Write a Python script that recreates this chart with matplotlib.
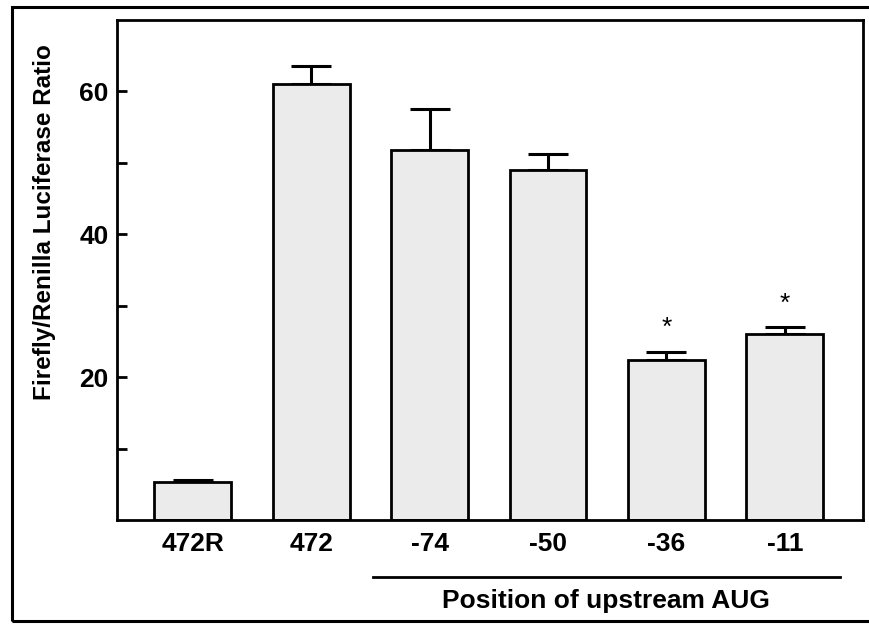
import matplotlib.pyplot as plt
from matplotlib.patches import Rectangle

# --- Data ---
labels = ['472R', '472', '-74', '-50', '-36', '-11']
ratios = [5.4, 61.1, 51.8, 49.0, 22.4, 26.1]
errors = [0.2, 2.4, 5.8, 2.2, 1.2, 0.9]
star_bars = [4, 5]
star_heights = [27.6, 31.0]

plt.rcParams['font.family'] = ['Liberation Sans', 'DejaVu Sans']

fig = plt.figure(figsize=(8.69, 6.24), dpi=100)
ax = fig.add_axes([0.1346, 0.1659, 0.8585, 0.8021])

x = list(range(len(labels)))
ax.bar(x, ratios, width=0.65, color='#ebebeb', edgecolor='black', linewidth=2.0, zorder=2)
ax.errorbar(x, ratios, yerr=[[0] * len(errors), errors], fmt='none', ecolor='black',
            elinewidth=2.2, capsize=14.5, capthick=2.2, zorder=1)

for i, h in zip(star_bars, star_heights):
    ax.text(i, h - 0.7, '*', ha='center', va='center', fontsize=19)

ax.set_xlim(-0.64, 5.66)
ax.set_ylim(0, 70)
ax.set_xticks(x)
ax.set_xticklabels(labels, fontsize=19, fontweight='bold')
ax.set_yticks([10, 20, 30, 40, 50, 60])
ax.set_yticklabels(['', '20', '', '40', '', '60'], fontsize=19, fontweight='bold')
ax.tick_params(axis='x', length=0, pad=8)
ax.tick_params(axis='y', length=7.5, width=2, direction='in', pad=6)
for s in ax.spines.values():
    s.set_linewidth(2)

ax.set_ylabel('Firefly/Renilla Luciferase Ratio', fontsize=17.5, fontweight='bold')
ax.yaxis.set_label_coords(-0.082, 0.596)

# group line under the AUG constructs
trans = ax.get_xaxis_transform()
ax.plot([1.523, 5.464], [-0.113, -0.113], color='black', lw=2, transform=trans, clip_on=False)
ax.text(3.49, -0.16, 'Position of upstream AUG', transform=trans, ha='center', va='center',
        fontsize=19, fontweight='bold')

# outer frame round the whole figure
fig.patches.append(Rectangle((12 / 869, 3 / 624), 1.0, 0.984, transform=fig.transFigure,
                             fill=False, edgecolor='black', linewidth=2.2))

plt.savefig('out.png', dpi=100)
